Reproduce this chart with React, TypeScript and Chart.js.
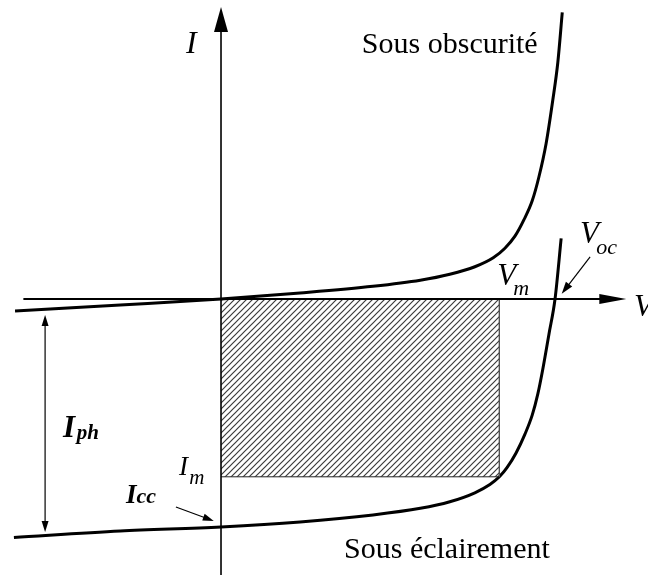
import { useEffect, useRef } from "react";
import { Chart, registerables } from "chart.js";

Chart.register(...registerables);

// Dark characteristic (voltage, current), arbitrary units
const darkV = [-0.37, -0.181, 0, 0.142, 0.273, 0.358, 0.411, 0.456, 0.489, 0.51, 0.528, 0.544, 0.559, 0.571, 0.584, 0.596, 0.605, 0.613];
const darkI = [-0.158, -0.079, 0, 0.079, 0.166, 0.246, 0.325, 0.424, 0.542, 0.668, 0.826, 1.04, 1.292, 1.605, 2.047, 2.618, 3.112, 3.77];

// Illuminated characteristic
const lightV = [-0.372, -0.181, 0, 0.142, 0.273, 0.358, 0.411, 0.456, 0.483, 0.5, 0.514, 0.53, 0.546, 0.559, 0.569, 0.578, 0.589, 0.6, 0.611];
const lightI = [-3.138, -3.054, -3.0, -2.934, -2.842, -2.755, -2.668, -2.55, -2.441, -2.34, -2.216, -2.026, -1.778, -1.529, -1.253, -0.924, -0.466, 0, 0.797];

// Operating points
const Vm = 0.5;
const Im = -2.34;
const Voc = 0.6;
const Icc = -3.0;
const Iph = -3.066;

// Plot window
const xRange = [-0.397, 0.767];
const yRange = [-3.632, 3.934];

// Axis extents (voltage axis from its left end to arrow tip, current axis bottom to tip)
const vAxis = [-0.355, 0.728];
const iAxis = [-3.632, 3.842];

const SERIF = '"Liberation Serif", "Times New Roman", serif';

function hatchPattern(): CanvasPattern | string {
  const c = document.createElement("canvas");
  c.width = 6;
  c.height = 6;
  const g = c.getContext("2d");
  if (!g) return "#888";
  g.strokeStyle = "#3c3c3c";
  g.lineWidth = 1.2;
  g.beginPath();
  g.moveTo(-1, 7);
  g.lineTo(7, -1);
  g.moveTo(-1, 1);
  g.lineTo(1, -1);
  g.moveTo(5, 7);
  g.lineTo(7, 5);
  g.stroke();
  return g.createPattern(c, "repeat") || "#888";
}

function arrowHead(ctx: CanvasRenderingContext2D, fx: number, fy: number, tx: number, ty: number, len: number, half: number) {
  const a = Math.atan2(ty - fy, tx - fx);
  const bx = tx - len * Math.cos(a);
  const by = ty - len * Math.sin(a);
  ctx.beginPath();
  ctx.moveTo(tx, ty);
  ctx.lineTo(bx + half * Math.sin(a), by - half * Math.cos(a));
  ctx.lineTo(bx - half * Math.sin(a), by + half * Math.cos(a));
  ctx.closePath();
  ctx.fill();
}

const diagramPlugin = {
  id: "diagram",
  afterDatasetsDraw(chart: Chart) {
    const ctx = chart.ctx;
    const xs = chart.scales.x;
    const ys = chart.scales.y;
    const px = (v: number) => xs.getPixelForValue(v);
    const py = (v: number) => ys.getPixelForValue(v);
    ctx.save();
    ctx.strokeStyle = "#000";
    ctx.fillStyle = "#000";

    // voltage axis
    ctx.lineWidth = 2.2;
    ctx.beginPath();
    ctx.moveTo(px(vAxis[0]), py(0));
    ctx.lineTo(px(vAxis[1]) - 20, py(0));
    ctx.stroke();
    arrowHead(ctx, px(vAxis[0]), py(0), px(vAxis[1]), py(0), 27, 5);

    // current axis
    ctx.lineWidth = 1.6;
    ctx.beginPath();
    ctx.moveTo(px(0), py(iAxis[0]));
    ctx.lineTo(px(0), py(iAxis[1]) + 20);
    ctx.stroke();
    arrowHead(ctx, px(0), py(iAxis[0]), px(0), py(iAxis[1]), 25, 7);

    // Iph double arrow
    const ax = px(-0.316);
    const aTop = py(-0.21);
    const aBot = py(Iph);
    ctx.lineWidth = 1.2;
    ctx.beginPath();
    ctx.moveTo(ax, aTop + 8);
    ctx.lineTo(ax, aBot - 8);
    ctx.stroke();
    arrowHead(ctx, ax, aBot, ax, aTop, 11, 3.5);
    arrowHead(ctx, ax, aTop, ax, aBot, 11, 3.5);

    // Icc pointer
    const c0x = px(-0.081), c0y = py(-2.737);
    const c1x = px(-0.013), c1y = py(Icc + 0.08);
    ctx.lineWidth = 1.2;
    ctx.beginPath();
    ctx.moveTo(c0x, c0y);
    ctx.lineTo(c1x - 6, c1y - 2.2);
    ctx.stroke();
    arrowHead(ctx, c0x, c0y, c1x, c1y, 11, 3.5);

    // Voc pointer
    const v0x = px(0.663), v0y = py(0.553);
    const v1x = px(Voc + 0.012), v1y = py(0.07);
    ctx.beginPath();
    ctx.moveTo(v0x, v0y);
    ctx.lineTo(v1x + 4, v1y - 5);
    ctx.stroke();
    arrowHead(ctx, v0x, v0y, v1x, v1y, 12, 4);

    // labels
    ctx.textBaseline = "alphabetic";
    ctx.textAlign = "left";
    const text = (s: string, x: number, y: number, font: string) => {
      ctx.font = font;
      ctx.fillText(s, px(x), py(y));
    };
    text("I", -0.063, 3.237, `italic 32px ${SERIF}`);
    text("Sous obscurité", 0.253, 3.237, `30px ${SERIF}`);
    text("V", 0.496, 0.184, `italic 31px ${SERIF}`);
    text("m", 0.525, 0.053, `italic 22px ${SERIF}`);
    text("V", 0.645, 0.737, `italic 31px ${SERIF}`);
    text("oc", 0.674, 0.592, `italic 22px ${SERIF}`);
    text("V", 0.742, -0.224, `italic 31px ${SERIF}`);
    text("I", -0.284, -1.816, `italic bold 31px ${SERIF}`);
    text("ph", -0.259, -1.84, `italic bold 21px ${SERIF}`);
    text("I", -0.0754, -2.316, `italic 27px ${SERIF}`);
    text("m", -0.057, -2.434, `italic 21px ${SERIF}`);
    text("I", -0.1706, -2.684, `italic bold 27px ${SERIF}`);
    text("cc", -0.152, -2.684, `italic bold 22px ${SERIF}`);
    text("Sous éclairement", 0.221, -3.408, `30px ${SERIF}`);
    ctx.restore();
  },
};

export default function App() {
  const ref = useRef<HTMLCanvasElement | null>(null);

  useEffect(() => {
    if (!ref.current) return;
    const pts = (xv: number[], yv: number[]) => xv.map((x, i) => ({ x, y: yv[i] }));
    const chart = new Chart(ref.current, {
      type: "scatter",
      data: {
        datasets: [
          {
            label: "Puissance",
            data: [
              { x: 0, y: Im },
              { x: Vm, y: Im },
            ],
            showLine: true,
            fill: "origin",
            backgroundColor: hatchPattern() as any,
            borderColor: "#222",
            borderWidth: 1,
            pointRadius: 0,
          },
          {
            label: "Vm",
            data: [
              { x: Vm, y: 0 },
              { x: Vm, y: Im },
            ],
            showLine: true,
            borderColor: "#555",
            borderWidth: 1,
            pointRadius: 0,
          },
          {
            label: "Sous obscurité",
            data: pts(darkV, darkI),
            showLine: true,
            borderColor: "#000",
            borderWidth: 3,
            pointRadius: 0,
            cubicInterpolationMode: "monotone",
          },
          {
            label: "Sous éclairement",
            data: pts(lightV, lightI),
            showLine: true,
            borderColor: "#000",
            borderWidth: 3,
            pointRadius: 0,
            cubicInterpolationMode: "monotone",
          },
        ],
      },
      options: {
        animation: false,
        responsive: false,
        maintainAspectRatio: false,
        layout: { padding: 0 },
        plugins: {
          legend: { display: false },
          tooltip: { enabled: false },
          title: { display: false },
        },
        scales: {
          x: { type: "linear", min: xRange[0], max: xRange[1], display: false },
          y: { type: "linear", min: yRange[0], max: yRange[1], display: false },
        },
      },
      plugins: [diagramPlugin],
    });
    return () => chart.destroy();
  }, []);

  return (
    <div style={{ position: "fixed", left: 0, top: 0, width: 648, height: 575, background: "#fff" }}>
      <canvas ref={ref} width={648} height={575} style={{ display: "block" }} />
    </div>
  );
}
